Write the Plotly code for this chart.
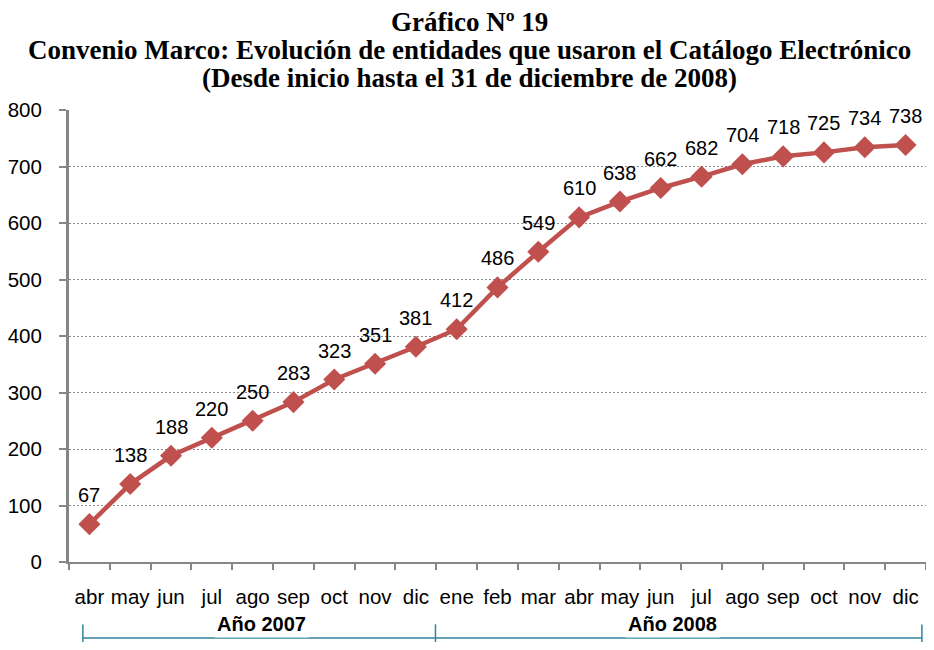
import plotly.graph_objects as go

# Data
months = ["abr", "may", "jun", "jul", "ago", "sep", "oct", "nov", "dic",
          "ene", "feb", "mar", "abr", "may", "jun", "jul", "ago", "sep", "oct", "nov", "dic"]
entidades = [67, 138, 188, 220, 250, 283, 323, 351, 381,
             412, 486, 549, 610, 638, 662, 682, 704, 718, 725, 734, 738]
years = ["Año 2007", "Año 2008"]
title_lines = ["Gráfico Nº 19",
               "Convenio Marco: Evolución de entidades que usaron el Catálogo Electrónico",
               "(Desde inicio hasta el 31 de diciembre de 2008)"]

x_idx = list(range(len(months)))
red = "#C0504D"
teal = "#31859C"
grey = "#868686"

fig = go.Figure()

fig.add_trace(go.Scatter(
    x=x_idx, y=entidades,
    mode="lines+markers",
    line=dict(color=red, width=4.5),
    marker=dict(symbol="diamond", size=17, color=red),
    cliponaxis=False,
    showlegend=False,
))

# value labels above each point
for i, v in zip(x_idx, entidades):
    fig.add_annotation(x=i, y=v, text=str(v), showarrow=False, yshift=29,
                       font=dict(family="Liberation Sans", size=20, color="black"))

# title, three lines
for line, yp, in zip(title_lines, [1.194, 1.133, 1.071]):
    fig.add_annotation(x=0.467, y=yp, xref="paper", yref="paper", text="<b>" + line + "</b>",
                       showarrow=False, xanchor="center", yanchor="middle", borderpad=0,
                       font=dict(family="Liberation Serif", size=27, color="black"))

# Year brackets below the axis
y_br = -0.168
fig.add_shape(type="line", xref="x", yref="paper", x0=-0.16, x1=20.4, y0=y_br, y1=y_br,
              line=dict(color=teal, width=1.5))
for xv in [-0.16, 8.48, 20.4]:
    fig.add_shape(type="line", xref="x", yref="paper", x0=xv, x1=xv, y0=y_br - 0.025, y1=y_br + 0.03,
                  line=dict(color=teal, width=1.5))
for label, xc in zip(years, [4.22, 14.28]):
    fig.add_annotation(x=xc, y=y_br, xref="x", yref="paper", text="<b>" + label + "</b>",
                       showarrow=False, bgcolor="white", borderpad=2,
                       font=dict(family="Liberation Sans", size=20, color="black"))

# sized so the page (with the browser's 8px body margin) fits the window
fig.update_layout(
    width=918, height=634,
    margin=dict(l=57, r=0, t=102, b=80),
    plot_bgcolor="white", paper_bgcolor="white",
    font=dict(family="Liberation Sans", size=20, color="black"),
)

fig.update_xaxes(
    range=[-0.5, len(months) - 0.5],
    tickmode="array", tickvals=x_idx, ticktext=months,
    showline=True, linecolor=grey, linewidth=2,
    ticks="", ticklabelstandoff=15,
    minor=dict(tick0=0.5, dtick=1, ticks="outside", ticklen=6, tickcolor=grey, tickwidth=1.5, showgrid=False),
    showgrid=False, zeroline=False,
    tickfont=dict(size=20.5),
)
fig.update_yaxes(
    range=[0, 800], dtick=100,
    showline=True, linecolor=grey, linewidth=3,
    ticks="outside", ticklen=7, tickcolor=grey, tickwidth=1.5,
    ticklabelstandoff=13,
    showgrid=True, gridcolor="#8a8a8a", griddash="2px,2px", gridwidth=1,
    zeroline=False,
    tickfont=dict(size=20.5),
)

fig.write_html("out.html")
